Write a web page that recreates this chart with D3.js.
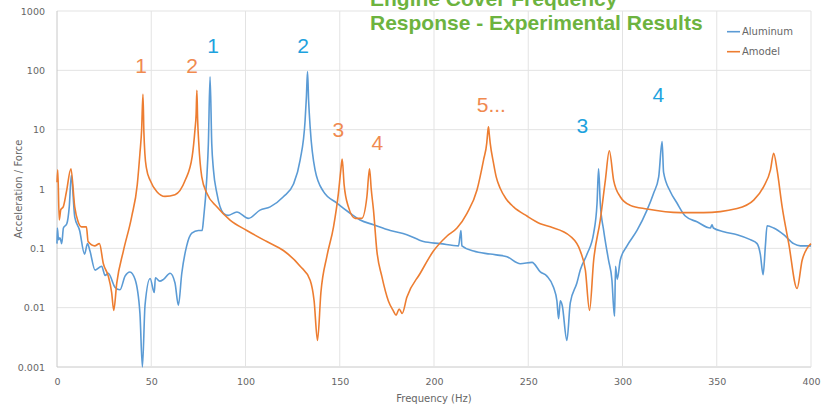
<!DOCTYPE html>
<html>
<head>
<meta charset="utf-8">
<script src="https://cdn.jsdelivr.net/npm/d3@7"></script>
<style>
  body { margin: 0; background: #fff; }
  svg { display: block; font-family: "DejaVu Sans", sans-serif; }
</style>
</head>
<body>
<svg id="chart" width="825" height="411"></svg>
<script>
// Frequency response data
var aluFreq = [0, 0.2, 0.8, 1.6, 2.5, 3.4, 5.2, 6.5, 7.6, 9.4, 12, 14.6, 16.2, 17.5, 20.2, 23.7, 25.5, 27.2, 30.8, 33.4,
  36.1, 38.7, 41.4, 44, 45.3, 46.7, 49.4, 51.6, 52.2, 54.5, 56.5, 60, 62.6, 64.4, 66.2, 68.8, 71.5, 75, 77, 77.7,
  79.5, 80.3, 81.2, 82.1, 83, 84.8, 88.3, 90.9, 95.4, 101.5, 107.7, 113.1, 120.1, 125.4, 129, 131.6, 132.3, 132.9, 133.5, 134.3, 136.9, 141.3,
  148.5, 155.5, 160.8, 167.9, 176.8, 185.6, 194.4, 203.3, 213, 214.3, 214.8, 221, 229.8, 238.7, 245.8, 252, 256.4, 259.9, 263.4, 265.2,
  266.1, 267, 268, 270.5, 272.3, 275.8, 277.6, 281.2, 284.7, 286.5, 287.3, 288.2, 290, 292.6, 294.4, 295.2, 295.8, 296.3, 297.2, 298.8,
  302.4, 307.7, 313, 316.5, 319.2, 321, 321.8, 325.4, 328.9, 333.3, 339.5, 346.6, 347.5, 348.2, 353.7, 360.8, 367.8, 371.4, 373.1, 374.6,
  375.8, 376.7, 380.2, 385.5, 390.8, 394.4, 400];
var aluValues = [0.12, 0.22, 0.14, 0.15, 0.12, 0.22, 0.26, 0.5, 1.7, 0.34, 0.2, 0.08, 0.12, 0.09, 0.043, 0.05, 0.035, 0.038, 0.022, 0.02,
  0.034, 0.04, 0.03, 0.008, 0.001, 0.011, 0.031, 0.018, 0.032, 0.028, 0.03, 0.038, 0.026, 0.011, 0.038, 0.11, 0.18, 0.2, 0.2, 0.3,
  1.6, 5.8, 78, 5.8, 2.1, 0.85, 0.39, 0.36, 0.41, 0.32, 0.44, 0.5, 0.74, 1.2, 3.1, 14, 35, 95, 30, 11, 2.1, 0.91,
  0.58, 0.39, 0.3, 0.25, 0.2, 0.17, 0.13, 0.12, 0.11, 0.2, 0.11, 0.09, 0.08, 0.072, 0.055, 0.058, 0.04, 0.034, 0.022, 0.013,
  0.0065, 0.013, 0.011, 0.0028, 0.012, 0.026, 0.043, 0.08, 0.18, 0.58, 2.2, 0.58, 0.2, 0.063, 0.029, 0.011, 0.0072, 0.05, 0.03, 0.063,
  0.11, 0.2, 0.44, 0.85, 1.6, 6.3, 1.9, 0.9, 0.58, 0.35, 0.28, 0.22, 0.25, 0.22, 0.19, 0.17, 0.14, 0.12, 0.08, 0.036,
  0.11, 0.24, 0.22, 0.17, 0.12, 0.11, 0.11];

var amoFreq = [0, 0.4, 1.2, 2, 3.3, 5, 7.4, 9.4, 11.2, 13, 15.6, 16.5, 20, 22.5, 24.6, 27.2, 29, 30.1, 31.7, 35.2,
  39.6, 42.6, 44, 44.9, 45.6, 46.1, 46.6, 47.5, 49.4, 53, 57.3, 62.6, 68, 71.7, 73.2, 73.8, 74.2, 74.6, 75.2, 76.8, 79.5, 84.8, 91.8, 100.7, 111.3,
  120.1, 129, 134.3, 136.4, 138.2, 140, 143.2, 146.7, 149.3, 150.5, 151.3, 152.3, 154.6, 158.2, 161.7, 164.4, 165.8, 166.7, 167.9, 169.7,
  172.3, 175.8, 178.3, 179.9, 181.5, 183.1, 185.6, 192.7, 199.7, 206.8, 212.2, 217.5, 222.8, 226.3, 228, 228.5, 228.9, 229.3, 229.8, 231.6, 233, 235.1, 238, 242.2,
  249.3, 256.4, 261.7, 272.3, 277.6, 280.3, 282.5, 284.7, 288.2, 290.9, 293, 295.3, 298.8, 304.1, 313, 330.7, 343, 360.8, 369.6, 374.9,
  378.5, 380.2, 382, 384.7, 388.2, 392.6, 395.3, 397.9, 400];
var amoValues = [1.3, 2.1, 0.3, 0.45, 0.5, 0.9, 2.2, 0.5, 0.28, 0.23, 0.23, 0.13, 0.11, 0.12, 0.055, 0.034, 0.018, 0.009, 0.026, 0.09,
  0.34, 1.2, 4, 10, 39.5, 9, 4, 2.2, 1.4, 0.9, 0.75, 0.8, 1.4, 3.5, 10, 18, 46, 15, 6, 1.6, 0.85, 0.5, 0.3, 0.2, 0.13,
  0.092, 0.05, 0.029, 0.013, 0.0028, 0.018, 0.074, 0.23, 0.85, 2.0, 3.2, 1.2, 0.5, 0.32, 0.32, 0.74, 2.2, 1.0, 0.44, 0.09,
  0.034, 0.013, 0.009, 0.0075, 0.0095, 0.008, 0.015, 0.038, 0.09, 0.16, 0.22, 0.39, 0.96, 3.1, 6, 9, 11.2, 8.5, 6, 2.7, 1.6, 1.03, 0.7, 0.5,
  0.35, 0.26, 0.23, 0.16, 0.09, 0.043, 0.009, 0.063, 0.3, 1.4, 4.4, 1.4, 0.74, 0.53, 0.46, 0.4, 0.4, 0.47, 0.65, 1.1,
  2.1, 4, 2.1, 0.5, 0.12, 0.021, 0.063, 0.1, 0.12];

// Mode number annotations
var noteLabels = ["1", "2", "1", "2", "3", "4", "5...", "3", "4"];
var noteFreq = [44.6, 71.7, 82.8, 130.6, 149.2, 169.9, 230.4, 278.7, 319];
var noteValues = [90, 90, 196, 196, 7.5, 4.5, 19.9, 8.8, 29];
var noteSeries = ["Amodel", "Amodel", "Aluminum", "Aluminum", "Amodel", "Amodel", "Amodel", "Aluminum", "Aluminum"];

var xTicks = [0, 50, 100, 150, 200, 250, 300, 350, 400];
var yTicks = [0.001, 0.01, 0.1, 1, 10, 100, 1000];
var seriesNames = ["Aluminum", "Amodel"];

var margin = { top: 11, right: 14, bottom: 44, left: 57 };
var width = 825, height = 411;

var lineColor = { Aluminum: "#5b9bd5", Amodel: "#ed7d31" };
var noteColor = { Aluminum: "#1da2de", Amodel: "#f08a50" };

var svg = d3.select("#chart");

var xScale = d3.scaleLinear()
    .domain([0, 400])
    .range([margin.left, width - margin.right]);

var yScale = d3.scaleLog()
    .domain([0.001, 1000])
    .range([height - margin.bottom, margin.top]);

// gridlines
svg.append("g")
    .selectAll("line")
    .data(yTicks)
    .enter()
    .append("line")
    .attr("x1", xScale(0))
    .attr("x2", xScale(400))
    .attr("y1", function(d) { return yScale(d); })
    .attr("y2", function(d) { return yScale(d); })
    .attr("stroke", function(d) { return d === 0.001 ? "#c8c8c8" : "#e3e3e3"; })
    .attr("stroke-width", 1);

svg.append("g")
    .selectAll("line")
    .data(xTicks)
    .enter()
    .append("line")
    .attr("y1", yScale(0.001))
    .attr("y2", yScale(1000))
    .attr("x1", function(d) { return xScale(d); })
    .attr("x2", function(d) { return xScale(d); })
    .attr("stroke", function(d) { return d === 0 ? "#c8c8c8" : "#e3e3e3"; })
    .attr("stroke-width", 1);

// axes (labels only, Excel style)
var xAxis = d3.axisBottom(xScale).tickValues(xTicks).tickSize(0).tickPadding(11);
svg.append("g")
    .attr("transform", "translate(0," + yScale(0.001) + ")")
    .call(xAxis)
    .call(function(g) { g.select(".domain").remove(); })
    .selectAll("text")
    .attr("fill", "#666")
    .attr("font-family", "DejaVu Sans")
    .attr("font-size", "9.5px");

var yAxis = d3.axisLeft(yScale).tickValues(yTicks).tickSize(0).tickPadding(12)
    .tickFormat(function(d) { return String(d); });
svg.append("g")
    .attr("transform", "translate(" + xScale(0) + ",0)")
    .call(yAxis)
    .call(function(g) { g.select(".domain").remove(); })
    .selectAll("text")
    .attr("fill", "#666")
    .attr("font-family", "DejaVu Sans")
    .attr("font-size", "9.5px");

// axis titles
svg.append("text")
    .attr("x", (xScale(0) + xScale(400)) / 2)
    .attr("y", 402)
    .attr("text-anchor", "middle")
    .attr("fill", "#666")
    .attr("font-size", "10px")
    .text("Frequency (Hz)");

svg.append("text")
    .attr("transform", "translate(22," + yScale(1) + ") rotate(-90)")
    .attr("text-anchor", "middle")
    .attr("fill", "#666")
    .attr("font-size", "10px")
    .text("Acceleration / Force");

// lines
var line = d3.line()
    .x(function(d) { return xScale(d[0]); })
    .y(function(d) { return yScale(d[1]); })
    .curve(d3.curveMonotoneX);

var series = [
    { name: "Aluminum", pts: d3.zip(aluFreq, aluValues) },
    { name: "Amodel", pts: d3.zip(amoFreq, amoValues) }
];

svg.append("g")
    .selectAll("path")
    .data(series)
    .enter()
    .append("path")
    .attr("d", function(d) { return line(d.pts); })
    .attr("fill", "none")
    .attr("stroke", function(d) { return lineColor[d.name]; })
    .attr("stroke-width", 1.6)
    .attr("stroke-linejoin", "round");

// mode labels
svg.append("g")
    .selectAll("text")
    .data(noteLabels)
    .enter()
    .append("text")
    .attr("x", function(d, i) { return xScale(noteFreq[i]); })
    .attr("y", function(d, i) { return yScale(noteValues[i]); })
    .attr("text-anchor", "middle")
    .attr("font-family", "Liberation Sans, Arial, sans-serif")
    .attr("font-size", "21px")
    .attr("fill", function(d, i) { return noteColor[noteSeries[i]]; })
    .text(function(d) { return d; });

// title (top line is clipped by the frame, as in the original)
var title = svg.append("text")
    .attr("font-family", "Liberation Sans, Arial, sans-serif")
    .attr("font-size", "21px")
    .attr("font-weight", "bold")
    .attr("fill", "#6db33f");
title.append("tspan").attr("x", 370).attr("y", 6).text("Engine Cover Frequency");
title.append("tspan").attr("x", 370).attr("y", 30).text("Response - Experimental Results");

// legend
var legend = svg.append("g")
    .selectAll("g")
    .data(seriesNames)
    .enter()
    .append("g")
    .attr("transform", function(d, i) { return "translate(727," + (31.7 + i * 20) + ")"; });

legend.append("line")
    .attr("x1", 0)
    .attr("x2", 13)
    .attr("stroke", function(d) { return lineColor[d]; })
    .attr("stroke-width", 1.6);

legend.append("text")
    .attr("x", 15)
    .attr("dy", "0.35em")
    .attr("font-size", "10px")
    .attr("fill", "#666")
    .text(function(d) { return d; });
</script>
</body>
</html>
